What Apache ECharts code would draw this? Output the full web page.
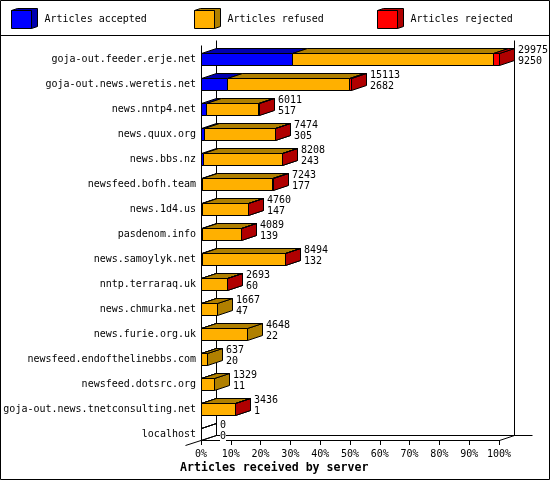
<!DOCTYPE html>
<html><head><meta charset="utf-8">
<style>html,body{margin:0;padding:0;background:#fff}#c{width:550px;height:480px}</style>
<script src="https://cdn.jsdelivr.net/npm/echarts@6/dist/echarts.min.js"></script>
</head><body><div id="c"></div>
<script>
const servers = ["goja-out.feeder.erje.net","goja-out.news.weretis.net","news.nntp4.net","news.quux.org","news.bbs.nz","newsfeed.bofh.team","news.1d4.us","pasdenom.info","news.samoylyk.net","nntp.terraraq.uk","news.chmurka.net","news.furie.org.uk","newsfeed.endofthelinebbs.com","newsfeed.dotsrc.org","goja-out.news.tnetconsulting.net","localhost"];
const offered = [29975,15113,6011,7474,8208,7243,4760,4089,8494,2693,1667,4648,637,1329,3436,0];
const accepted = [9250,2682,517,305,243,177,147,139,132,60,47,22,20,11,1,0];
const refused = [20122,12281,5313,7159,7955,7056,4603,3940,8352,2623,1620,4626,617,1318,3425,0];
const rejected = [603,150,10,10,10,10,10,10,10,10,0,0,0,0,10,0];
const axisMax = 29975;
const names = ["Articles accepted","Articles refused","Articles rejected"];
const faceColors = ["#0000ff","#ffb000","#ff0000"];
const darkColors = ["#0000b0","#b08000","#b00000"];
const legendLefts = [11,194,377];

const FONT = '"DejaVu Sans Mono"';
const DX = 15, DY = 5, BAR = 12;
const stacks = [accepted, refused, rejected];

function box(x0, x1, yb, face, dark) {
  const yt = yb - BAR;
  const st = {stroke:'#000', lineWidth:1};
  const poly = (pts, fill) => ({type:'polygon', shape:{points:pts}, style:Object.assign({fill}, st)});
  return [
    poly([[x1,yt],[x1+DX,yt-DY],[x1+DX,yb-DY],[x1,yb]], dark),
    poly([[x0,yt],[x0+DX,yt-DY],[x1+DX,yt-DY],[x1,yt]], dark),
    poly([[x0,yt],[x1,yt],[x1,yb],[x0,yb]], face)
  ];
}
function segmentSeries(k) {
  const data = servers.map((s,i) => {
    let a = 0; for (let j=0;j<k;j++) a += stacks[j][i];
    return [i, a, a + stacks[k][i]];
  });
  return {
    type:'custom', name:names[k], data, clip:false, z:3,
    encode:{x:[1,2], y:0},
    itemStyle:{color:faceColors[k]},
    renderItem(params, api) {
      const i = api.value(0), a = api.value(1), b = api.value(2);
      const isEmpty = offered[i] === 0;
      if (a === b && !(isEmpty && k === 1)) return null;
      const base = api.coord([0,i]);
      const band = api.size([0,1])[1];
      const x0 = Math.round(base[0]);
      const xa = x0 + Math.floor(api.coord([a,i])[0] - base[0]) + .5;
      const xb = x0 + Math.floor(api.coord([b,i])[0] - base[0]) + .5;
      const yb = Math.round(base[1] + band/2) + .5;
      const none = 'rgba(0,0,0,0)';
      return {type:'group', children:box(xa, xb, yb, isEmpty ? none : faceColors[k], isEmpty ? none : darkColors[k])};
    }
  };
}
const frameSeries = {
  type:'custom', name:'frame', data:[[0,0]], clip:false, z:1, silent:true,
  encode:{x:0,y:1},
  renderItem(params, api) {
    const c = params.coordSys, L=c.x+.5, R=c.x+c.width+.5, T=c.y+.5, B=c.y+c.height+.5;
    const ln = (x1,y1,x2,y2) => ({type:'line', shape:{x1,y1,x2,y2}, style:{stroke:'#000',lineWidth:1,fill:null}});
    return {type:'group', children:[
      ln(L,T+DY,L,B),
      ln(L+DX,T,L+DX,B-DY),
      ln(R+DX,T,R+DX,B-DY),
      ln(L+DX,B-DY,R+33,B-DY),
      ln(L-16,B+5,L+DX,B-DY),
      ln(R,B,R+DX,B-DY)
    ]};
  }
};
const labelSeries = {
  type:'custom', name:'labels', clip:false, z:5, silent:true,
  data:servers.map((s,i)=>[i, accepted[i]+refused[i]+rejected[i]]),
  encode:{x:1,y:0},
  renderItem(params, api) {
    const i = api.value(0), t = api.value(1);
    const base = api.coord([0,i]);
    const band = api.size([0,1])[1];
    const x = Math.round(base[0]) + Math.floor(api.coord([t,i])[0]-base[0]) + DX + 4;
    const yb = Math.round(base[1] + band/2);
    return {type:'text', style:{
      x, y:yb-20, text:offered[i]+"\n"+accepted[i], fill:'#000',
      font:'10px '+FONT, lineHeight:11, align:'left', verticalAlign:'top',
      backgroundColor: offered[i]===0 ? '#fff' : null
    }};
  }
};

const swatches = legendLefts.map((l,k)=>({
  type:'polygon', z:1,
  shape:{points:[[l+.5,10.5],[l+6.5,8.5],[l+26.5,8.5],[l+26.5,26.5],[l+20.5,28.5],[l+20.5,10.5]]},
  style:{fill:darkColors[k],stroke:'#000',lineWidth:1}
}));

const chart = echarts.init(document.getElementById('c'), null, {renderer:'canvas'});
chart.setOption({
  animation:false,
  backgroundColor:'#fff',
  textStyle:{fontFamily:FONT},
  title:{text:"Articles received by server", left:180, top:462, padding:0,
    textStyle:{fontFamily:FONT,fontWeight:'bold',fontSize:11.6,color:'#000',lineHeight:12}},
  legend:names.map((n,k)=>({
    data:[n], left:legendLefts[k], top:10, padding:0, selectedMode:false,
    icon:'rect', itemWidth:20, itemHeight:18,
    itemStyle:{color:faceColors[k],borderColor:'#000',borderWidth:1},
    textStyle:{fontFamily:FONT,fontSize:10,color:'#000',padding:[2,0,0,8]}
  })),
  grid:{left:201,right:51,top:40,bottom:40,containLabel:false},
  xAxis:{type:'value',min:0,max:axisMax,interval:axisMax/10,
    splitLine:{show:false},
    axisLine:{show:true,onZero:false,lineStyle:{color:'#000',width:1}},
    axisTick:{show:true,length:5,lineStyle:{color:'#000',width:1}},
    axisLabel:{color:'#000',fontFamily:FONT,fontSize:10,margin:9,showMaxLabel:true,showMinLabel:true,
      formatter:v=>Math.round(v/axisMax*100)+'%'}},
  yAxis:{type:'category',inverse:true,data:servers,
    axisLine:{show:false},axisTick:{show:false},splitLine:{show:false},
    axisLabel:{color:'#000',fontFamily:FONT,fontSize:10,margin:5,interval:0,verticalAlign:'top',padding:[2,0,0,0]}},
  series:[frameSeries, segmentSeries(0), segmentSeries(1), segmentSeries(2), labelSeries],
  graphic:[
    {type:'rect',silent:true,z:0,shape:{x:.5,y:.5,width:549,height:479},style:{fill:null,stroke:'#000',lineWidth:1}},
    {type:'line',silent:true,z:0,shape:{x1:0,y1:35.5,x2:550,y2:35.5},style:{stroke:'#000',lineWidth:1}},
    ...swatches
  ]
});
</script></body></html>
